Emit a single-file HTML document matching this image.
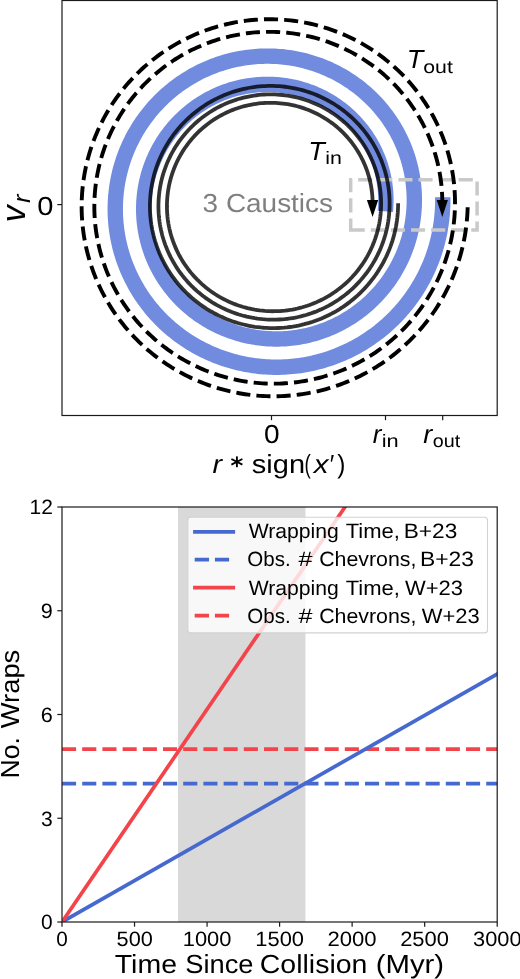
<!DOCTYPE html>
<html><head><meta charset="utf-8">
<style>
html,body{margin:0;padding:0;background:#fff;}
svg{display:block;will-change:transform;}
text{font-family:"Liberation Sans",sans-serif;fill:#000;text-rendering:geometricPrecision;}
</style></head>
<body>
<svg width="520" height="979" viewBox="0 0 520 979">
<rect x="0" y="0" width="520" height="979" fill="#fff"/>
<defs>
<clipPath id="c1"><rect x="62" y="0.5" width="435.2" height="415"/></clipPath>
<clipPath id="c2"><rect x="62" y="507" width="435.2" height="415"/></clipPath>
</defs>
<!-- ================= TOP PANEL ================= -->
<g clip-path="url(#c1)" fill="none">
<path d="M442.74 197.24 L442.76 199.93 L442.74 202.63 L442.68 205.31 L442.57 208.00 L442.43 210.69 L442.24 213.37 L442.00 216.04 L441.73 218.71 L441.41 221.38 L441.05 224.04 L440.65 226.69 L440.20 229.33 L439.71 231.97 L439.19 234.59 L438.62 237.21 L438.00 239.82 L437.35 242.41 L436.66 244.99 L435.92 247.57 L435.15 250.12 L434.33 252.67 L433.47 255.20 L432.58 257.71 L431.64 260.21 L430.66 262.70 L429.65 265.16 L428.60 267.61 L427.50 270.04 L426.37 272.46 L425.21 274.85 L424.00 277.22 L422.76 279.58 L421.48 281.91 L420.16 284.22 L418.81 286.51 L417.42 288.78 L416.00 291.02 L414.54 293.24 L413.04 295.44 L411.52 297.61 L409.95 299.76 L408.36 301.88 L406.73 303.97 L405.07 306.04 L403.38 308.08 L401.65 310.09 L399.90 312.07 L398.11 314.03 L396.30 315.95 L394.45 317.85 L392.57 319.71 L390.67 321.55 L388.74 323.35 L386.78 325.13 L384.79 326.87 L382.78 328.58 L380.73 330.25 L378.67 331.90 L376.58 333.50 L374.46 335.08 L372.32 336.62 L370.16 338.13 L367.97 339.60 L365.76 341.04 L363.54 342.44 L361.28 343.80 L359.01 345.13 L356.72 346.43 L354.41 347.68 L352.08 348.90 L349.73 350.08 L347.37 351.23 L344.98 352.33 L342.59 353.40 L340.17 354.43 L337.74 355.42 L335.30 356.37 L332.84 357.28 L330.37 358.16 L327.88 358.99 L325.39 359.79 L322.88 360.54 L320.36 361.26 L317.84 361.93 L315.30 362.57 L312.75 363.16 L310.20 363.71 L307.64 364.23 L305.07 364.70 L302.50 365.13 L299.92 365.52 L297.33 365.87 L294.75 366.18 L292.15 366.45 L289.56 366.68 L286.96 366.87 L284.36 367.01 L281.77 367.12 L279.17 367.18 L276.57 367.20 L273.97 367.19 L271.37 367.13 L268.78 367.03 L266.19 366.89 L263.60 366.70 L261.02 366.48 L258.44 366.22 L255.87 365.92 L253.30 365.57 L250.74 365.19 L248.19 364.76 L245.65 364.30 L243.12 363.80 L240.59 363.25 L238.08 362.67 L235.57 362.05 L233.08 361.39 L230.60 360.69 L228.13 359.95 L225.68 359.17 L223.24 358.36 L220.81 357.51 L218.40 356.61 L216.00 355.69 L213.62 354.72 L211.26 353.72 L208.92 352.68 L206.59 351.60 L204.28 350.49 L201.99 349.34 L199.72 348.16 L197.47 346.94 L195.24 345.69 L193.03 344.40 L190.84 343.08 L188.68 341.73 L186.54 340.34 L184.42 338.92 L182.33 337.47 L180.26 335.98 L178.21 334.46 L176.20 332.91 L174.20 331.33 L172.23 329.72 L170.29 328.08 L168.38 326.41 L166.50 324.72 L164.64 322.99 L162.81 321.23 L161.01 319.45 L159.24 317.64 L157.50 315.80 L155.80 313.94 L154.12 312.05 L152.47 310.13 L150.85 308.19 L149.27 306.23 L147.72 304.24 L146.20 302.23 L144.71 300.19 L143.26 298.13 L141.84 296.06 L140.46 293.96 L139.11 291.84 L137.79 289.70 L136.51 287.54 L135.27 285.36 L134.06 283.16 L132.88 280.95 L131.74 278.71 L130.64 276.47 L129.58 274.20 L128.55 271.92 L127.56 269.63 L126.60 267.32 L125.68 264.99 L124.81 262.66 L123.96 260.31 L123.16 257.95 L122.40 255.58 L121.67 253.19 L120.98 250.80 L120.33 248.40 L119.72 245.99 L119.15 243.57 L118.61 241.14 L118.12 238.71 L117.66 236.27 L117.25 233.82 L116.87 231.37 L116.54 228.92 L116.24 226.46 L115.98 224.00 L115.76 221.53 L115.58 219.06 L115.44 216.60 L115.34 214.13 L115.28 211.66 L115.26 209.19 L115.28 206.72 L115.34 204.25 L115.43 201.79 L115.57 199.33 L115.74 196.87 L115.96 194.42 L116.21 191.97 L116.51 189.53 L116.84 187.09 L117.21 184.66 L117.62 182.24 L118.06 179.82 L118.55 177.42 L119.07 175.02 L119.63 172.63 L120.23 170.25 L120.87 167.89 L121.55 165.53 L122.26 163.19 L123.01 160.86 L123.79 158.54 L124.61 156.24 L125.47 153.95 L126.37 151.67 L127.30 149.41 L128.26 147.17 L129.27 144.94 L130.30 142.73 L131.37 140.54 L132.48 138.37 L133.62 136.21 L134.79 134.08 L136.00 131.96 L137.24 129.87 L138.51 127.79 L139.81 125.74 L141.15 123.70 L142.52 121.69 L143.92 119.71 L145.35 117.74 L146.81 115.80 L148.30 113.89 L149.82 112.00 L151.37 110.13 L152.95 108.29 L154.56 106.47 L156.20 104.69 L157.86 102.92 L159.55 101.19 L161.27 99.48 L163.01 97.81 L164.78 96.16 L166.57 94.53 L168.39 92.94 L170.24 91.38 L172.11 89.85 L174.00 88.34 L175.91 86.87 L177.85 85.43 L179.80 84.02 L181.78 82.65 L183.78 81.30 L185.80 79.99 L187.84 78.71 L189.90 77.46 L191.98 76.25 L194.08 75.06 L196.19 73.92 L198.32 72.80 L200.47 71.72 L202.63 70.68 L204.81 69.67 L207.01 68.70 L209.22 67.76 L211.44 66.85 L213.67 65.98 L215.92 65.15 L218.18 64.35 L220.45 63.59 L222.73 62.87 L225.02 62.18 L227.32 61.53 L229.63 60.91 L231.95 60.33 L234.28 59.79 L236.61 59.28 L238.95 58.82 L241.30 58.39 L243.65 57.99 L246.01 57.64 L248.37 57.32 L250.73 57.04 L253.10 56.79 L255.47 56.59 L257.85 56.42 L260.22 56.29 L262.59 56.19 L264.97 56.13 L267.34 56.12 L269.71 56.13 L272.08 56.19 L274.45 56.28 L276.82 56.41 L279.18 56.58 L281.54 56.78 L283.89 57.03 L286.24 57.30 L288.58 57.62 L290.92 57.97 L293.25 58.36 L295.57 58.78 L297.88 59.25 L300.18 59.74 L302.48 60.28 L304.76 60.84 L307.04 61.45 L309.30 62.09 L311.55 62.77 L313.79 63.48 L316.02 64.22 L318.23 65.00 L320.43 65.82 L322.62 66.66 L324.79 67.55 L326.94 68.46 L329.08 69.41 L331.20 70.40 L333.31 71.41 L335.40 72.46 L337.47 73.54 L339.52 74.65 L341.55 75.79 L343.57 76.97 L345.56 78.18 L347.53 79.41 L349.48 80.68 L351.41 81.98 L353.32 83.30 L355.21 84.66 L357.07 86.04 L358.91 87.46 L360.73 88.90 L362.52 90.37 L364.28 91.86 L366.03 93.39 L367.74 94.94 L369.44 96.51 L371.10 98.12 L372.74 99.74 L374.35 101.39 L375.93 103.07 L377.49 104.77 L379.02 106.49 L380.52 108.24 L381.99 110.01 L383.43 111.80 L384.84 113.61 L386.22 115.45 L387.58 117.30 L388.90 119.17 L390.19 121.07 L391.45 122.98 L392.68 124.91 L393.87 126.86 L395.04 128.83 L396.17 130.82 L397.27 132.82 L398.34 134.84 L399.37 136.87 L400.38 138.92 L401.34 140.98 L402.28 143.06 L403.18 145.15 L404.05 147.25 L404.88 149.37 L405.68 151.49 L406.44 153.63 L407.17 155.78 L407.87 157.94 L408.53 160.11 L409.15 162.29 L409.74 164.47 L410.29 166.67 L410.81 168.87 L411.30 171.08 L411.74 173.29 L412.16 175.51 L412.53 177.74 L412.87 179.97 L413.18 182.20 L413.45 184.44 L413.68 186.68 L413.88 188.92 L414.04 191.17 L414.16 193.41 L414.25 195.66 L414.30 197.90 L414.32 200.15 L414.30 202.39 L414.25 204.63 L414.16 206.87 L414.03 209.11 L413.87 211.35 L413.67 213.58 L413.44 215.80 L413.17 218.02 L412.87 220.24 L412.53 222.44 L412.16 224.65 L411.75 226.84 L411.31 229.03 L410.83 231.21 L410.31 233.38 L409.77 235.54 L409.19 237.69 L408.57 239.82 L407.92 241.95 L407.24 244.07 L406.52 246.17 L405.78 248.27 L404.99 250.35 L404.18 252.41 L403.33 254.46 L402.45 256.50 L401.54 258.52 L400.60 260.53 L399.62 262.52 L398.62 264.49 L397.58 266.45 L396.51 268.38 L395.42 270.30 L394.29 272.21 L393.13 274.09 L391.95 275.95 L390.73 277.80 L389.49 279.62 L388.21 281.42 L386.91 283.20 L385.59 284.96 L384.23 286.70 L382.85 288.42 L381.44 290.11 L380.00 291.78 L378.54 293.42 L377.06 295.04 L375.55 296.64 L374.01 298.21 L372.45 299.76 L370.87 301.28 L369.26 302.78 L367.63 304.24 L365.98 305.69 L364.31 307.10 L362.61 308.49 L360.89 309.85 L359.16 311.18 L357.40 312.49 L355.62 313.76 L353.83 315.01 L352.01 316.23 L350.18 317.42 L348.33 318.58 L346.46 319.71 L344.57 320.80 L342.67 321.87 L340.76 322.91 L338.82 323.92 L336.88 324.89 L334.91 325.84 L332.94 326.75 L330.95 327.63 L328.95 328.48 L326.93 329.30 L324.91 330.08 L322.87 330.84 L320.82 331.56 L318.76 332.24 L316.70 332.90 L314.62 333.52 L312.53 334.11 L310.44 334.66 L308.34 335.19 L306.23 335.67 L304.12 336.13 L302.00 336.55 L299.87 336.94 L297.74 337.29 L295.61 337.61 L293.47 337.90 L291.33 338.15 L289.18 338.37 L287.04 338.55 L284.89 338.70 L282.74 338.82 L280.59 338.90 L278.44 338.95 L276.29 338.97 L274.15 338.95 L272.00 338.89 L269.86 338.81 L267.72 338.69 L265.58 338.53 L263.45 338.35 L261.32 338.12 L259.19 337.87 L257.08 337.58 L254.96 337.26 L252.86 336.91 L250.76 336.52 L248.67 336.10 L246.58 335.65 L244.51 335.16 L242.44 334.65 L240.39 334.10 L238.34 333.52 L236.31 332.90 L234.28 332.26 L232.27 331.58 L230.27 330.87 L228.28 330.14 L226.31 329.37 L224.35 328.57 L222.40 327.73 L220.47 326.87 L218.55 325.98 L216.65 325.06 L214.76 324.11 L212.89 323.14 L211.04 322.13 L209.21 321.09 L207.39 320.03 L205.59 318.94 L203.81 317.82 L202.05 316.67 L200.31 315.50 L198.58 314.30 L196.88 313.07 L195.20 311.82 L193.54 310.54 L191.90 309.23 L190.29 307.90 L188.69 306.55 L187.12 305.17 L185.57 303.77 L184.05 302.35 L182.55 300.90 L181.07 299.43 L179.62 297.94 L178.19 296.42 L176.79 294.88 L175.41 293.33 L174.06 291.75 L172.73 290.15 L171.43 288.53 L170.16 286.90 L168.92 285.24 L167.70 283.56 L166.51 281.87 L165.35 280.16 L164.21 278.43 L163.11 276.69 L162.03 274.93 L160.98 273.15 L159.96 271.36 L158.97 269.55 L158.01 267.73 L157.08 265.90 L156.18 264.05 L155.31 262.19 L154.47 260.31 L153.66 258.43 L152.88 256.53 L152.14 254.62 L151.42 252.71 L150.73 250.78 L150.08 248.84 L149.45 246.89 L148.86 244.94 L148.30 242.97 L147.77 241.00 L147.28 239.02 L146.81 237.04 L146.38 235.05 L145.98 233.05 L145.61 231.05 L145.28 229.05 L144.97 227.04 L144.70 225.02 L144.46 223.01 L144.26 220.99 L144.08 218.97 L143.94 216.95 L143.83 214.93 L143.75 212.91 L143.71 210.88 L143.70 208.86 L143.72 206.84 L143.77 204.82 L143.85 202.81 L143.97 200.79 L144.12 198.78 L144.30 196.77 L144.51 194.77 L144.75 192.77 L145.03 190.78 L145.34 188.79 L145.68 186.81 L146.05 184.84 L146.45 182.87 L146.88 180.91 L147.35 178.96 L147.84 177.02 L148.37 175.09 L148.93 173.16 L149.51 171.25 L150.13 169.35 L150.78 167.46 L151.45 165.58 L152.16 163.71 L152.89 161.85 L153.66 160.01 L154.45 158.18 L155.27 156.36 L156.13 154.56 L157.00 152.77 L157.91 151.00 L158.85 149.25 L159.81 147.51 L160.80 145.78 L161.81 144.07 L162.86 142.38 L163.92 140.71 L165.02 139.06 L166.14 137.42 L167.29 135.80 L168.46 134.20 L169.65 132.63 L170.87 131.07 L172.12 129.53 L173.38 128.01 L174.67 126.51 L175.99 125.04 L177.33 123.59 L178.68 122.15 L180.07 120.75 L181.47 119.36 L182.89 118.00 L184.34 116.66 L185.80 115.34 L187.29 114.05 L188.79 112.78 L190.31 111.54 L191.86 110.32 L193.42 109.12 L195.00 107.96 L196.59 106.82 L198.21 105.70 L199.84 104.61 L201.48 103.55 L203.15 102.51 L204.82 101.50 L206.52 100.52 L208.22 99.56 L209.95 98.63 L211.68 97.73 L213.43 96.86 L215.19 96.02 L216.96 95.20 L218.75 94.42 L220.54 93.66 L222.35 92.93 L224.17 92.23 L225.99 91.56 L227.83 90.91 L229.68 90.30 L231.53 89.72 L233.39 89.16 L235.26 88.64 L237.14 88.15 L239.02 87.68 L240.91 87.25 L242.81 86.85 L244.71 86.47 L246.61 86.13 L248.52 85.81 L250.43 85.53 L252.35 85.28 L254.27 85.06 L256.19 84.86 L258.11 84.70 L260.03 84.57 L261.95 84.47 L263.88 84.40 L265.80 84.36 L267.73 84.35 L269.65 84.37 L271.57 84.42 L273.49 84.50 L275.40 84.62 L277.31 84.76 L279.22 84.93 L281.13 85.13 L283.03 85.36 L284.92 85.62 L286.81 85.91 L288.69 86.23 L290.57 86.58 L292.44 86.96 L294.30 87.37 L296.16 87.81 L298.00 88.27 L299.84 88.77 L301.67 89.29 L303.49 89.84 L305.30 90.42 L307.09 91.03 L308.88 91.67 L310.66 92.33 L312.42 93.02 L314.17 93.74 L315.91 94.49 L317.63 95.26 L319.35 96.06 L321.04 96.89 L322.73 97.74 L324.40 98.62 L326.05 99.52 L327.69 100.45 L329.31 101.40 L330.91 102.38 L332.50 103.38 L334.07 104.41 L335.62 105.46 L337.16 106.54 L338.68 107.64 L340.17 108.76 L341.65 109.90 L343.11 111.07 L344.55 112.26 L345.97 113.47 L347.37 114.70 L348.75 115.96 L350.11 117.23 L351.45 118.53 L352.76 119.84 L354.06 121.18 L355.33 122.53 L356.58 123.90 L357.80 125.29 L359.00 126.71 L360.18 128.13 L361.34 129.58 L362.47 131.04 L363.58 132.52 L364.66 134.02 L365.72 135.53 L366.75 137.06 L367.76 138.60 L368.74 140.16 L369.69 141.73 L370.63 143.31 L371.53 144.91 L372.41 146.52 L373.26 148.15 L374.09 149.79 L374.88 151.43 L375.66 153.09 L376.40 154.77 L377.12 156.45 L377.81 158.14 L378.47 159.84 L379.11 161.55 L379.71 163.27 L380.29 165.00 L380.84 166.73 L381.37 168.47 L381.86 170.22 L382.33 171.98 L382.76 173.74 L383.17 175.51 L383.55 177.28 L383.91 179.06 L384.23 180.84 L384.53 182.63 L384.79 184.41 L385.03 186.21 L385.24 188.00 L385.42 189.80 L385.57 191.59 L385.69 193.39 L385.78 195.19 L385.85 196.99 L385.88 198.79 L385.89 200.59 L385.87 202.38 L385.82 204.18 L385.74 205.97 L385.63 207.76 L385.49 209.55 L385.33 211.33" stroke="#718bdf" stroke-width="15.4" stroke-linecap="butt" stroke-linejoin="round"/>
<path d="M350.7 229.9 L477.1 229.9 L477.1 179.7 L350.7 179.7 Z" stroke="#c9c9c9" stroke-width="3.5" stroke-dasharray="14.1 6" fill="none"/>
<path d="M398.11 203.33 L398.08 206.28 L397.98 209.23 L397.81 212.18 L397.57 215.12 L397.26 218.06 L396.88 220.98 L396.43 223.90 L395.92 226.81 L395.33 229.70 L394.68 232.57 L393.95 235.43 L393.16 238.27 L392.31 241.09 L391.38 243.89 L390.40 246.66 L389.34 249.42 L388.22 252.14 L387.04 254.84 L385.79 257.51 L384.48 260.14 L383.11 262.75 L381.68 265.32 L380.19 267.86 L378.64 270.36 L377.03 272.82 L375.36 275.24 L373.63 277.63 L371.85 279.97 L370.02 282.27 L368.13 284.53 L366.19 286.73 L364.20 288.90 L362.15 291.01 L360.06 293.08 L357.92 295.10 L355.74 297.06 L353.50 298.97 L351.23 300.83 L348.91 302.64 L346.55 304.39 L344.15 306.08 L341.71 307.72 L339.23 309.30 L336.72 310.82 L334.17 312.28 L331.59 313.68 L328.97 315.02 L326.33 316.29 L323.66 317.51 L320.96 318.66 L318.23 319.75 L315.48 320.77 L312.71 321.73 L309.91 322.62 L307.10 323.45 L304.26 324.21 L301.42 324.90 L298.55 325.53 L295.67 326.09 L292.79 326.58 L289.89 327.00 L286.98 327.36 L284.06 327.65 L281.14 327.86 L278.22 328.01 L275.30 328.10 L272.37 328.11 L269.45 328.06 L266.52 327.93 L263.61 327.74 L260.70 327.48 L257.79 327.15 L254.90 326.76 L252.02 326.29 L249.15 325.76 L246.29 325.17 L243.45 324.50 L240.62 323.77 L237.82 322.98 L235.04 322.12 L232.27 321.19 L229.54 320.20 L226.82 319.15 L224.13 318.03 L221.47 316.85 L218.84 315.61 L216.25 314.31 L213.68 312.95 L211.15 311.53 L208.65 310.05 L206.19 308.52 L203.76 306.92 L201.38 305.27 L199.03 303.57 L196.73 301.81 L194.47 300.00 L192.25 298.14 L190.08 296.22 L187.96 294.26 L185.89 292.25 L183.86 290.19 L181.88 288.08 L179.96 285.93 L178.08 283.73 L176.26 281.50 L174.49 279.22 L172.78 276.90 L171.13 274.54 L169.53 272.14 L167.99 269.71 L166.51 267.24 L165.08 264.74 L163.72 262.21 L162.42 259.65 L161.18 257.06 L160.00 254.44 L158.88 251.79 L157.83 249.12 L156.84 246.43 L155.92 243.72 L155.06 240.98 L154.27 238.23 L153.54 235.46 L152.88 232.67 L152.28 229.87 L151.76 227.06 L151.29 224.23 L150.90 221.40 L150.57 218.56 L150.32 215.71 L150.12 212.86 L150.00 210.01 L149.95 207.15 L149.96 204.30 L150.04 201.44 L150.19 198.59 L150.40 195.75 L150.68 192.91 L151.03 190.08 L151.45 187.26 L151.93 184.45 L152.49 181.65 L153.10 178.87 L153.78 176.10 L154.53 173.36 L155.34 170.63 L156.22 167.92 L157.16 165.23 L158.16 162.57 L159.23 159.93 L160.36 157.31 L161.55 154.73 L162.80 152.17 L164.11 149.65 L165.48 147.16 L166.90 144.70 L168.39 142.27 L169.93 139.89 L171.53 137.53 L173.18 135.22 L174.89 132.95 L176.65 130.72 L178.46 128.53 L180.33 126.38 L182.24 124.28 L184.20 122.23 L186.21 120.22 L188.27 118.26 L190.37 116.35 L192.51 114.49 L194.70 112.68 L196.93 110.93 L199.20 109.22 L201.51 107.57 L203.86 105.98 L206.25 104.44 L208.67 102.96 L211.12 101.53 L213.61 100.17 L216.12 98.86 L218.67 97.61 L221.25 96.42 L223.85 95.30 L226.48 94.23 L229.13 93.23 L231.80 92.29 L234.50 91.41 L237.21 90.60 L239.94 89.85 L242.69 89.16 L245.45 88.54 L248.23 87.99 L251.01 87.50 L253.81 87.07 L256.62 86.71 L259.43 86.42 L262.25 86.19 L265.07 86.03 L267.90 85.94 L270.72 85.91 L273.55 85.94 L276.37 86.05 L279.19 86.22 L282.00 86.45 L284.81 86.75 L287.60 87.12 L290.39 87.55 L293.17 88.05 L295.93 88.61 L298.68 89.23 L301.41 89.92 L304.12 90.68 L306.81 91.49 L309.48 92.37 L312.13 93.31 L314.76 94.31 L317.36 95.38 L319.94 96.50 L322.48 97.69 L325.00 98.93 L327.49 100.23 L329.94 101.59 L332.36 103.00 L334.75 104.47 L337.10 106.00 L339.41 107.58 L341.68 109.21 L343.91 110.89 L346.10 112.63 L348.25 114.42 L350.36 116.25 L352.42 118.14 L354.44 120.07 L356.40 122.05 L358.32 124.07 L360.20 126.14 L362.02 128.25 L363.79 130.40 L365.50 132.59 L367.17 134.82 L368.78 137.09 L370.34 139.39 L371.84 141.73 L373.28 144.10 L374.67 146.51 L376.00 148.95 L377.27 151.41 L378.48 153.91 L379.63 156.43 L380.73 158.98 L381.76 161.55 L382.72 164.15 L383.63 166.76 L384.47 169.40 L385.26 172.05 L385.97 174.72 L386.63 177.41 L387.22 180.11 L387.74 182.82 L388.20 185.54 L388.60 188.28 L388.93 191.02 L389.19 193.76 L389.39 196.51 L389.53 199.27 L389.60 202.02 L389.60 204.78 L389.54 207.53 L389.41 210.28 L389.22 213.03 L388.96 215.77 L388.64 218.51 L388.25 221.23 L387.80 223.94 L387.29 226.65 L386.71 229.34 L386.06 232.01 L385.36 234.67 L384.59 237.30 L383.76 239.92 L382.87 242.52 L381.91 245.10 L380.90 247.65 L379.82 250.18 L378.69 252.68 L377.50 255.15 L376.24 257.59 L374.94 260.01 L373.57 262.39 L372.15 264.74 L370.68 267.05 L369.15 269.33 L367.56 271.57 L365.93 273.77 L364.24 275.93 L362.51 278.05 L360.72 280.13 L358.89 282.17 L357.00 284.16 L355.08 286.11 L353.10 288.01 L351.09 289.87 L349.03 291.67 L346.92 293.43 L344.78 295.14 L342.60 296.79 L340.38 298.40 L338.12 299.95 L335.83 301.45 L333.50 302.89 L331.14 304.28 L328.75 305.61 L326.33 306.88 L323.88 308.10 L321.40 309.26 L318.90 310.36 L316.37 311.40 L313.82 312.38 L311.24 313.31 L308.65 314.17 L306.04 314.97 L303.40 315.70 L300.76 316.38 L298.10 316.99 L295.42 317.54 L292.73 318.03 L290.04 318.46 L287.33 318.82 L284.62 319.12 L281.90 319.35 L279.18 319.52 L276.46 319.63 L273.73 319.67 L271.01 319.65 L268.28 319.57 L265.56 319.42 L262.85 319.21 L260.14 318.93 L257.44 318.59 L254.75 318.19 L252.07 317.73 L249.40 317.20 L246.75 316.61 L244.11 315.96 L241.49 315.25 L238.89 314.48 L236.31 313.65 L233.75 312.75 L231.21 311.80 L228.70 310.79 L226.21 309.72 L223.74 308.59 L221.31 307.41 L218.91 306.17 L216.53 304.87 L214.19 303.52 L211.88 302.11 L209.61 300.65 L207.37 299.14 L205.17 297.58 L203.01 295.97 L200.88 294.30 L198.80 292.59 L196.76 290.83 L194.76 289.03 L192.81 287.17 L190.90 285.28 L189.04 283.34 L187.22 281.36 L185.45 279.33 L183.74 277.27 L182.07 275.16 L180.45 273.02 L178.88 270.84 L177.37 268.63 L175.91 266.38 L174.51 264.10 L173.16 261.79 L171.86 259.45 L170.62 257.08 L169.44 254.68 L168.32 252.25 L167.25 249.80 L166.24 247.33 L165.29 244.83 L164.41 242.31 L163.58 239.78 L162.81 237.22 L162.10 234.65 L161.46 232.07 L160.88 229.47 L160.36 226.85 L159.90 224.23 L159.50 221.60 L159.17 218.96 L158.90 216.31 L158.69 213.66 L158.54 211.01 L158.46 208.35 L158.44 205.70 L158.49 203.04 L158.60 200.39 L158.77 197.74 L159.00 195.09 L159.29 192.46 L159.65 189.83 L160.07 187.21 L160.56 184.60 L161.10 182.01 L161.71 179.43 L162.37 176.87 L163.10 174.32 L163.88 171.79 L164.73 169.28 L165.64 166.79 L166.60 164.33 L167.62 161.88 L168.70 159.47 L169.84 157.08 L171.03 154.72 L172.28 152.38 L173.58 150.08 L174.94 147.81 L176.34 145.58 L177.81 143.37 L179.32 141.21 L180.88 139.07 L182.50 136.98 L184.16 134.93 L185.87 132.91 L187.63 130.94 L189.43 129.01 L191.28 127.12 L193.17 125.28 L195.10 123.48 L197.08 121.73 L199.09 120.03 L201.15 118.37 L203.24 116.76 L205.37 115.20 L207.54 113.70 L209.74 112.24 L211.97 110.84 L214.24 109.49 L216.53 108.20 L218.86 106.95 L221.21 105.77 L223.60 104.64 L226.00 103.56 L228.43 102.55 L230.89 101.59 L233.36 100.69 L235.86 99.84 L238.37 99.06 L240.90 98.33 L243.45 97.67 L246.01 97.06 L248.58 96.52 L251.17 96.03 L253.76 95.61 L256.37 95.25 L258.98 94.94 L261.60 94.70 L264.22 94.52 L266.84 94.41 L269.47 94.35 L272.09 94.36 L274.71 94.42 L277.33 94.55 L279.95 94.74 L282.56 94.99 L285.16 95.30 L287.76 95.68 L290.34 96.11 L292.91 96.60 L295.47 97.15 L298.01 97.77 L300.54 98.44 L303.05 99.17 L305.54 99.96 L308.01 100.80 L310.46 101.71 L312.89 102.67 L315.30 103.69 L317.67 104.76 L320.02 105.89 L322.35 107.07 L324.64 108.30 L326.90 109.59 L329.13 110.93 L331.33 112.33 L333.49 113.77 L335.62 115.26 L337.71 116.81 L339.77 118.40 L341.78 120.03 L343.76 121.72 L345.69 123.44 L347.58 125.22 L349.43 127.03 L351.23 128.89 L352.99 130.79 L354.70 132.73 L356.37 134.71 L357.99 136.73 L359.56 138.78 L361.08 140.87 L362.55 142.99 L363.96 145.15 L365.33 147.34 L366.64 149.56 L367.90 151.80 L369.11 154.08 L370.26 156.39 L371.35 158.71 L372.39 161.07 L373.38 163.44 L374.30 165.84 L375.17 168.26 L375.98 170.70 L376.73 173.15 L377.43 175.63 L378.06 178.11 L378.64 180.61 L379.15 183.12 L379.61 185.65 L380.01 188.18 L380.34 190.72 L380.62 193.26 L380.83 195.81 L380.98 198.37 L381.08 200.92 L381.11 203.48 L381.08 206.04 L380.99 208.59 L380.84 211.14 L380.63 213.69 L380.36 216.23 L380.03 218.76 L379.64 221.28 L379.19 223.79 L378.68 226.29 L378.11 228.78 L377.48 231.25 L376.80 233.71 L376.05 236.15 L375.25 238.57 L374.39 240.97 L373.48 243.34 L372.51 245.70 L371.48 248.03 L370.40 250.34 L369.27 252.61 L368.08 254.87 L366.84 257.09 L365.55 259.28 L364.20 261.44 L362.81 263.57 L361.36 265.66 L359.87 267.72 L358.33 269.74 L356.74 271.73 L355.11 273.68 L353.43 275.58 L351.70 277.45 L349.93 279.28 L348.13 281.06 L346.27 282.80 L344.38 284.50 L342.45 286.15 L340.48 287.75 L338.48 289.31 L336.44 290.82 L334.36 292.28 L332.25 293.69 L330.11 295.05 L327.94 296.36 L325.73 297.62 L323.50 298.83 L321.24 299.98 L318.96 301.08 L316.65 302.13 L314.32 303.12 L311.96 304.06 L309.58 304.94 L307.19 305.76 L304.77 306.53 L302.34 307.24 L299.90 307.89 L297.44 308.49 L294.96 309.03 L292.48 309.51 L289.98 309.93 L287.48 310.29 L284.97 310.60 L282.45 310.84 L279.93 311.03 L277.41 311.15 L274.89 311.22 L272.36 311.23 L269.84 311.18 L267.32 311.07 L264.80 310.90 L262.29 310.67 L259.78 310.39 L257.29 310.04 L254.80 309.64 L252.32 309.18 L249.86 308.66 L247.41 308.09 L244.98 307.46 L242.56 306.77 L240.16 306.02 L237.77 305.22 L235.41 304.36 L233.07 303.45 L230.76 302.49 L228.47 301.47 L226.20 300.39 L223.96 299.27 L221.75 298.09 L219.56 296.87 L217.41 295.59 L215.29 294.26 L213.20 292.88 L211.15 291.46 L209.13 289.99 L207.15 288.47 L205.20 286.91 L203.29 285.30 L201.42 283.65 L199.60 281.95 L197.81 280.22 L196.07 278.44 L194.36 276.62 L192.71 274.76 L191.09 272.87 L189.53 270.94 L188.01 268.97 L186.54 266.97 L185.11 264.94 L183.74 262.88 L182.41 260.78 L181.14 258.65 L179.92 256.50 L178.74 254.31 L177.63 252.11 L176.56 249.87 L175.55 247.61 L174.59 245.34 L173.69 243.03 L172.84 240.71 L172.05 238.38 L171.31 236.02 L170.63 233.65 L170.01 231.26 L169.44 228.86 L168.93 226.45 L168.48 224.03 L168.09 221.60 L167.75 219.16 L167.47 216.71 L167.25 214.26 L167.09 211.81 L166.99 209.35 L166.94 206.89 L166.96 204.43 L167.03 201.98 L167.16 199.53 L167.35 197.08 L167.59 194.64 L167.90 192.20 L168.26 189.78 L168.68 187.36 L169.16 184.95 L169.69 182.56 L170.28 180.18 L170.93 177.82 L171.63 175.47 L172.38 173.14 L173.20 170.83 L174.06 168.54 L174.98 166.27 L175.95 164.03 L176.98 161.81 L178.06 159.61 L179.19 157.44 L180.37 155.30 L181.60 153.19 L182.88 151.10 L184.21 149.05 L185.58 147.03 L187.01 145.05 L188.48 143.09 L189.99 141.18 L191.55 139.30 L193.16 137.46 L194.80 135.65 L196.49 133.89 L198.22 132.17 L199.99 130.48 L201.80 128.85 L203.65 127.25 L205.53 125.70 L207.45 124.19 L209.40 122.73 L211.39 121.32 L213.41 119.95 L215.46 118.63 L217.54 117.36 L219.65 116.14 L221.78 114.97 L223.95 113.85 L226.14 112.78 L228.35 111.76 L230.59 110.80 L232.84 109.88 L235.12 109.03 L237.42 108.22 L239.73 107.47 L242.06 106.78 L244.41 106.14 L246.77 105.55 L249.14 105.02 L251.53 104.55 L253.92 104.13 L256.32 103.77 L258.73 103.46 L261.15 103.21 L263.57 103.02 L265.99 102.89 L268.41 102.81 L270.84 102.79 L273.26 102.82 L275.68 102.91 L278.10 103.06 L280.51 103.27 L282.92 103.53 L285.32 103.85 L287.71 104.22 L290.09 104.65 L292.46 105.13 L294.82 105.67 L297.16 106.27 L299.48 106.92 L301.79 107.62 L304.08 108.38 L306.35 109.19 L308.61 110.05 L310.84 110.96 L313.04 111.93 L315.22 112.95 L317.38 114.02 L319.51 115.13 L321.61 116.30 L323.69 117.52 L325.73 118.78 L327.74 120.09 L329.72 121.45 L331.67 122.85 L333.58 124.30 L335.46 125.79 L337.30 127.32 L339.10 128.90 L340.86 130.52 L342.59 132.17 L344.27 133.87 L345.91 135.61 L347.51 137.38 L349.07 139.19 L350.59 141.03 L352.05 142.91 L353.48 144.83 L354.86 146.77 L356.19 148.75 L357.47 150.75 L358.70 152.79 L359.89 154.85 L361.02 156.94 L362.11 159.05 L363.14 161.19 L364.13 163.35 L365.06 165.53 L365.94 167.74 L366.76 169.96 L367.54 172.20 L368.26 174.46 L368.92 176.73 L369.53 179.02 L370.09 181.32 L370.59 183.63 L371.04 185.95 L371.43 188.28 L371.76 190.62 L372.04 192.97 L372.27 195.32 L372.43 197.67 L372.55 200.03 L372.60 202.39" stroke="#000" stroke-opacity="0.8" stroke-width="3.8" stroke-linecap="butt" stroke-linejoin="round"/>
<path d="M467.65 207.29 L467.55 210.35 L467.41 213.40 L467.21 216.45 L466.97 219.49 L466.68 222.53 L466.34 225.57 L465.95 228.59 L465.52 231.62 L465.04 234.63 L464.51 237.64 L463.93 240.63 L463.31 243.62 L462.64 246.59 L461.92 249.56 L461.16 252.51 L460.34 255.45 L459.49 258.38 L458.58 261.29 L457.64 264.19 L456.64 267.07 L455.60 269.94 L454.52 272.78 L453.39 275.62 L452.21 278.43 L451.00 281.22 L449.74 283.99 L448.43 286.75 L447.08 289.48 L445.69 292.19 L444.26 294.88 L442.78 297.54 L441.27 300.18 L439.71 302.80 L438.11 305.39 L436.47 307.96 L434.79 310.50 L433.07 313.01 L431.31 315.50 L429.52 317.95 L427.68 320.38 L425.81 322.78 L423.90 325.15 L421.95 327.49 L419.97 329.80 L417.95 332.07 L415.89 334.32 L413.80 336.53 L411.68 338.71 L409.52 340.85 L407.33 342.96 L405.10 345.04 L402.85 347.08 L400.56 349.08 L398.24 351.05 L395.89 352.98 L393.51 354.88 L391.10 356.74 L388.67 358.56 L386.20 360.34 L383.71 362.08 L381.19 363.78 L378.64 365.44 L376.07 367.07 L373.48 368.65 L370.86 370.19 L368.21 371.69 L365.55 373.15 L362.86 374.56 L360.15 375.94 L357.41 377.27 L354.66 378.56 L351.89 379.80 L349.10 381.00 L346.29 382.16 L343.47 383.28 L340.62 384.35 L337.77 385.37 L334.89 386.35 L332.00 387.29 L329.10 388.18 L326.18 389.02 L323.26 389.82 L320.31 390.57 L317.36 391.28 L314.40 391.94 L311.43 392.55 L308.45 393.12 L305.46 393.64 L302.47 394.12 L299.47 394.55 L296.46 394.93 L293.44 395.26 L290.43 395.55 L287.40 395.79 L284.38 395.98 L281.35 396.13 L278.33 396.22 L275.30 396.28 L272.27 396.28 L269.24 396.24 L266.22 396.15 L263.19 396.01 L260.17 395.83 L257.15 395.59 L254.14 395.32 L251.13 394.99 L248.13 394.62 L245.14 394.20 L242.15 393.73 L239.17 393.22 L236.20 392.67 L233.24 392.06 L230.29 391.41 L227.35 390.72 L224.43 389.98 L221.51 389.19 L218.61 388.36 L215.73 387.48 L212.85 386.56 L210.00 385.59 L207.16 384.58 L204.33 383.53 L201.52 382.43 L198.74 381.29 L195.97 380.11 L193.22 378.88 L190.49 377.61 L187.78 376.30 L185.09 374.95 L182.42 373.55 L179.78 372.12 L177.16 370.64 L174.57 369.12 L172.00 367.57 L169.45 365.97 L166.93 364.33 L164.44 362.66 L161.97 360.95 L159.54 359.19 L157.13 357.41 L154.75 355.58 L152.39 353.72 L150.07 351.82 L147.78 349.89 L145.52 347.92 L143.30 345.92 L141.10 343.88 L138.94 341.81 L136.81 339.70 L134.72 337.57 L132.66 335.40 L130.63 333.20 L128.64 330.97 L126.68 328.71 L124.77 326.41 L122.89 324.09 L121.04 321.75 L119.23 319.37 L117.47 316.96 L115.74 314.53 L114.04 312.07 L112.39 309.59 L110.78 307.08 L109.21 304.55 L107.68 301.99 L106.18 299.41 L104.74 296.81 L103.33 294.19 L101.96 291.54 L100.64 288.88 L99.35 286.19 L98.12 283.49 L96.92 280.77 L95.77 278.02 L94.66 275.27 L93.59 272.49 L92.57 269.70 L91.60 266.90 L90.66 264.08 L89.78 261.24 L88.94 258.40 L88.14 255.54 L87.39 252.67 L86.68 249.79 L86.02 246.89 L85.41 243.99 L84.84 241.08 L84.32 238.17 L83.84 235.24 L83.41 232.31 L83.03 229.37 L82.69 226.43 L82.40 223.48 L82.16 220.53 L81.96 217.58 L81.81 214.62 L81.71 211.67 L81.65 208.71 L81.64 205.75 L81.68 202.79 L81.76 199.84 L81.89 196.89 L82.07 193.93 L82.29 190.99 L82.56 188.05 L82.88 185.11 L83.24 182.18 L83.65 179.25 L84.10 176.33 L84.61 173.42 L85.15 170.52 L85.74 167.63 L86.38 164.75 L87.07 161.87 L87.79 159.01 L88.57 156.17 L89.39 153.33 L90.25 150.51 L91.16 147.70 L92.11 144.91 L93.10 142.14 L94.14 139.37 L95.22 136.63 L96.35 133.91 L97.51 131.20 L98.72 128.51 L99.98 125.84 L101.27 123.19 L102.60 120.57 L103.98 117.96 L105.40 115.38 L106.86 112.82 L108.35 110.28 L109.89 107.76 L111.47 105.28 L113.08 102.81 L114.74 100.38 L116.43 97.96 L118.16 95.58 L119.92 93.22 L121.73 90.90 L123.57 88.60 L125.44 86.33 L127.35 84.09 L129.30 81.88 L131.28 79.70 L133.29 77.55 L135.34 75.43 L137.42 73.35 L139.53 71.30 L141.67 69.29 L143.85 67.30 L146.05 65.35 L148.29 63.44 L150.55 61.56 L152.85 59.72 L155.17 57.92 L157.52 56.15 L159.90 54.42 L162.30 52.72 L164.74 51.07 L167.19 49.45 L169.67 47.87 L172.18 46.33 L174.71 44.83 L177.26 43.37 L179.83 41.95 L182.43 40.57 L185.04 39.23 L187.68 37.93 L190.34 36.67 L193.01 35.46 L195.71 34.28 L198.42 33.15 L201.15 32.07 L203.90 31.02 L206.66 30.02 L209.43 29.06 L212.22 28.14 L215.03 27.27 L217.85 26.44 L220.67 25.66 L223.52 24.92 L226.37 24.23 L229.23 23.58 L232.10 22.97 L234.98 22.41 L237.87 21.90 L240.76 21.43 L243.67 21.00 L246.57 20.62 L249.49 20.29 L252.41 20.00 L255.33 19.75 L258.25 19.56 L261.18 19.40 L264.11 19.30 L267.03 19.24 L269.96 19.22 L272.89 19.25 L275.82 19.33 L278.74 19.45 L281.67 19.62 L284.58 19.83 L287.50 20.09 L290.41 20.39 L293.31 20.74 L296.21 21.13 L299.10 21.57 L301.98 22.05 L304.86 22.58 L307.72 23.16 L310.58 23.77 L313.42 24.43 L316.25 25.14 L319.08 25.89 L321.88 26.68 L324.68 27.52 L327.46 28.40 L330.23 29.32 L332.98 30.29 L335.71 31.30 L338.43 32.35 L341.13 33.44 L343.82 34.58 L346.48 35.75 L349.12 36.97 L351.75 38.23 L354.35 39.53 L356.94 40.87 L359.50 42.24 L362.04 43.66 L364.55 45.12 L367.04 46.62 L369.51 48.15 L371.95 49.72 L374.37 51.33 L376.76 52.98 L379.12 54.66 L381.46 56.38 L383.77 58.14 L386.05 59.93 L388.30 61.76 L390.52 63.62 L392.71 65.51 L394.87 67.44 L397.00 69.40 L399.10 71.40 L401.17 73.42 L403.20 75.48 L405.20 77.57 L407.17 79.69 L409.10 81.84 L411.00 84.02 L412.86 86.23 L414.69 88.46 L416.48 90.73 L418.24 93.02 L419.96 95.34 L421.64 97.68 L423.28 100.05 L424.89 102.45 L426.46 104.86 L427.99 107.31 L429.48 109.77 L430.93 112.26 L432.34 114.77 L433.71 117.30 L435.04 119.86 L436.33 122.43 L437.58 125.02 L438.79 127.63 L439.96 130.26 L441.08 132.90 L442.16 135.56 L443.20 138.24 L444.20 140.94 L445.16 143.64 L446.07 146.37 L446.94 149.10 L447.76 151.85 L448.54 154.61 L449.28 157.38 L449.97 160.17 L450.62 162.96 L451.23 165.76 L451.79 168.57 L452.30 171.39 L452.77 174.22 L453.20 177.05 L453.58 179.89 L453.92 182.73 L454.21 185.58 L454.46 188.43 L454.66 191.28 L454.81 194.14 L454.92 196.99 L454.99 199.85 L455.01 202.71 L454.99 205.57 L454.92 208.43 L454.80 211.28 L454.64 214.14 L454.44 216.99 L454.19 219.83 L453.89 222.67 L453.55 225.51 L453.17 228.34 L452.74 231.16 L452.27 233.97 L451.75 236.78 L451.19 239.58 L450.58 242.37 L449.93 245.14 L449.24 247.91 L448.50 250.66 L447.72 253.41 L446.90 256.14 L446.03 258.85 L445.13 261.56 L444.18 264.24 L443.18 266.91 L442.15 269.57 L441.07 272.21 L439.95 274.83 L438.79 277.43 L437.59 280.02 L436.35 282.58 L435.07 285.12 L433.75 287.65 L432.39 290.15 L430.99 292.63 L429.56 295.09 L428.08 297.52 L426.57 299.93 L425.01 302.32 L423.42 304.68 L421.80 307.02 L420.14 309.33 L418.44 311.61 L416.70 313.87 L414.94 316.10 L413.13 318.30 L411.29 320.47 L409.42 322.61 L407.52 324.73 L405.58 326.81 L403.61 328.86 L401.61 330.88 L399.58 332.87 L397.51 334.83 L395.42 336.75 L393.29 338.64 L391.14 340.50 L388.96 342.32 L386.75 344.11 L384.51 345.86 L382.25 347.58 L379.95 349.26 L377.64 350.91 L375.29 352.52 L372.93 354.09 L370.54 355.62 L368.12 357.12 L365.68 358.58 L363.22 360.00 L360.74 361.38 L358.24 362.73 L355.72 364.03 L353.17 365.29 L350.61 366.52 L348.03 367.70 L345.43 368.85 L342.82 369.95 L340.18 371.01 L337.53 372.03 L334.87 373.01 L332.19 373.94 L329.50 374.84 L326.79 375.69 L324.07 376.50 L321.34 377.27 L318.60 377.99 L315.85 378.68 L313.09 379.31 L310.31 379.91 L307.53 380.46 L304.74 380.97 L301.95 381.44 L299.15 381.86 L296.34 382.24 L293.53 382.57 L290.71 382.86 L287.89 383.10 L285.06 383.31 L282.24 383.46 L279.41 383.58 L276.58 383.65 L273.75 383.67 L270.92 383.66 L268.09 383.59 L265.27 383.49 L262.44 383.34 L259.62 383.14 L256.81 382.90 L254.00 382.62 L251.19 382.30 L248.39 381.93 L245.60 381.51 L242.81 381.06 L240.03 380.56 L237.26 380.01 L234.50 379.43 L231.75 378.80 L229.01 378.13 L226.28 377.41 L223.57 376.66 L220.86 375.86 L218.17 375.02 L215.50 374.14 L212.84 373.22 L210.19 372.25 L207.56 371.25 L204.95 370.20 L202.35 369.12 L199.78 367.99 L197.22 366.82 L194.68 365.62 L192.16 364.37 L189.66 363.09 L187.18 361.77 L184.72 360.41 L182.29 359.01 L179.88 357.57 L177.49 356.10 L175.12 354.59 L172.78 353.05 L170.47 351.46 L168.18 349.85 L165.92 348.19 L163.68 346.51 L161.47 344.78 L159.29 343.03 L157.14 341.24 L155.01 339.42 L152.92 337.56 L150.85 335.68 L148.82 333.76 L146.82 331.81 L144.85 329.83 L142.91 327.82 L141.00 325.78 L139.12 323.71 L137.28 321.61 L135.47 319.49 L133.70 317.34 L131.96 315.16 L130.26 312.95 L128.59 310.72 L126.96 308.46 L125.36 306.18 L123.80 303.87 L122.28 301.54 L120.79 299.19 L119.34 296.81 L117.93 294.41 L116.56 292.00 L115.22 289.56 L113.93 287.10 L112.67 284.62 L111.46 282.12 L110.28 279.60 L109.15 277.07 L108.05 274.52 L106.99 271.95 L105.98 269.37 L105.01 266.78 L104.08 264.16 L103.19 261.54 L102.34 258.90 L101.53 256.25 L100.77 253.59 L100.04 250.91 L99.36 248.23 L98.73 245.53 L98.13 242.83 L97.58 240.12 L97.07 237.40 L96.61 234.67 L96.18 231.94 L95.81 229.20 L95.47 226.46 L95.18 223.71 L94.93 220.96 L94.72 218.21 L94.56 215.45 L94.44 212.69 L94.37 209.93 L94.34 207.17 L94.35 204.41 L94.41 201.65 L94.51 198.89 L94.65 196.14 L94.84 193.39 L95.07 190.64 L95.34 187.90 L95.66 185.16 L96.02 182.43 L96.42 179.70 L96.87 176.98 L97.36 174.27 L97.89 171.57 L98.47 168.87 L99.08 166.19 L99.74 163.51 L100.44 160.85 L101.18 158.20 L101.97 155.56 L102.79 152.94 L103.66 150.33 L104.57 147.73 L105.52 145.15 L106.51 142.58 L107.54 140.03 L108.61 137.49 L109.72 134.98 L110.86 132.48 L112.05 130.00 L113.28 127.54 L114.54 125.10 L115.85 122.68 L117.19 120.28 L118.57 117.90 L119.98 115.55 L121.43 113.21 L122.92 110.90 L124.45 108.62 L126.01 106.36 L127.60 104.12 L129.23 101.91 L130.90 99.73 L132.60 97.57 L134.33 95.44 L136.10 93.34 L137.90 91.26 L139.73 89.21 L141.59 87.20 L143.48 85.21 L145.41 83.25 L147.36 81.32 L149.35 79.43 L151.36 77.56 L153.40 75.73 L155.47 73.93 L157.57 72.16 L159.70 70.43 L161.85 68.73 L164.03 67.06 L166.24 65.43 L168.47 63.84 L170.72 62.27 L173.00 60.75 L175.30 59.26 L177.63 57.80 L179.97 56.39 L182.34 55.01 L184.73 53.66 L187.14 52.36 L189.57 51.09 L192.02 49.86 L194.49 48.67 L196.98 47.52 L199.48 46.41 L202.00 45.33 L204.54 44.30 L207.09 43.30 L209.66 42.35 L212.24 41.44 L214.83 40.56 L217.44 39.73 L220.06 38.94 L222.69 38.19 L225.34 37.48 L227.99 36.81 L230.65 36.18 L233.32 35.60 L236.01 35.06 L238.69 34.56 L241.39 34.10 L244.09 33.68 L246.80 33.30 L249.51 32.97 L252.23 32.68 L254.95 32.43 L257.68 32.23 L260.40 32.07 L263.13 31.95 L265.86 31.87 L268.59 31.83 L271.32 31.84 L274.05 31.89 L276.77 31.98 L279.50 32.12 L282.22 32.30 L284.94 32.51 L287.65 32.78 L290.36 33.08 L293.06 33.43 L295.76 33.82 L298.45 34.25 L301.13 34.72 L303.81 35.23 L306.47 35.79 L309.13 36.38 L311.77 37.02 L314.41 37.70 L317.03 38.42 L319.64 39.18 L322.24 39.98 L324.82 40.82 L327.39 41.70 L329.95 42.62 L332.49 43.58 L335.02 44.58 L337.52 45.62 L340.01 46.69 L342.49 47.81 L344.94 48.96 L347.38 50.15 L349.79 51.38 L352.19 52.65 L354.56 53.95 L356.92 55.29 L359.25 56.67 L361.56 58.08 L363.85 59.53 L366.11 61.01 L368.35 62.53 L370.56 64.08 L372.75 65.66 L374.91 67.28 L377.05 68.94 L379.16 70.62 L381.25 72.34 L383.30 74.09 L385.33 75.87 L387.33 77.68 L389.29 79.52 L391.23 81.40 L393.14 83.30 L395.02 85.23 L396.87 87.19 L398.68 89.18 L400.47 91.20 L402.22 93.24 L403.94 95.31 L405.62 97.41 L407.28 99.53 L408.89 101.67 L410.48 103.85 L412.03 106.04 L413.54 108.26 L415.02 110.50 L416.46 112.77 L417.86 115.05 L419.23 117.36 L420.57 119.69 L421.86 122.03 L423.12 124.40 L424.34 126.79 L425.52 129.19 L426.67 131.61 L427.77 134.05 L428.84 136.51 L429.86 138.98 L430.85 141.46 L431.80 143.96 L432.71 146.48 L433.58 149.01 L434.40 151.55 L435.19 154.10 L435.94 156.67 L436.65 159.24 L437.31 161.83 L437.94 164.42 L438.52 167.03 L439.06 169.64 L439.56 172.26 L440.02 174.89 L440.44 177.52 L440.81 180.16 L441.15 182.81 L441.44 185.45 L441.69 188.11 L441.90 190.76 L442.06 193.42 L442.19 196.08 L442.27 198.74 L442.31 201.40" stroke="#000" stroke-width="3.9" stroke-dasharray="14.1 6.1" stroke-linecap="butt" stroke-linejoin="round"/>
<path d="M366.9 200.1 L378.2 200.1 L372.6 217 Z" fill="#000"/>
<path d="M436.7 200.1 L447.9 200.1 L442.3 217.1 Z" fill="#000"/>
</g>
<rect x="62" y="0.5" width="435.2" height="415" fill="none" stroke="#1a1a1a" stroke-width="1.2"/>
<g stroke="#1a1a1a" stroke-width="1.2">
<line x1="57.3" y1="204.6" x2="62" y2="204.6"/>
<line x1="271.5" y1="415.5" x2="271.5" y2="420.2"/>
<line x1="385.5" y1="415.5" x2="385.5" y2="420.2"/>
<line x1="442.7" y1="415.5" x2="442.7" y2="420.2"/>
</g>
<text x="37.26" y="214.70" font-size="26.10" textLength="16.17" lengthAdjust="spacingAndGlyphs">0</text>
<text x="264.11" y="443.30" font-size="26.10" textLength="15.59" lengthAdjust="spacingAndGlyphs">0</text>
<text x="372.67" y="442.60" font-size="26.10" font-style="italic" textLength="8.66" lengthAdjust="spacingAndGlyphs">r</text>
<text x="381.74" y="446.70" font-size="18.00" textLength="16.98" lengthAdjust="spacingAndGlyphs">in</text>
<text x="423.15" y="442.60" font-size="26.10" font-style="italic" textLength="9.04" lengthAdjust="spacingAndGlyphs">r</text>
<text x="432.87" y="446.70" font-size="18.00" textLength="27.47" lengthAdjust="spacingAndGlyphs">out</text>
<text x="212.62" y="473.30" font-size="26.10" font-style="italic" textLength="9.61" lengthAdjust="spacingAndGlyphs">r</text>
<text x="251.89" y="473.30" font-size="26.10" textLength="53.19" lengthAdjust="spacingAndGlyphs">sign</text>
<text x="304.43" y="473.30" font-size="26.10" textLength="6.28" lengthAdjust="spacingAndGlyphs">(</text>
<text x="313.78" y="473.30" font-size="26.10" font-style="italic" textLength="14.75" lengthAdjust="spacingAndGlyphs">x</text>
<text x="329.79" y="473.30" font-size="26.10" textLength="4.58" lengthAdjust="spacingAndGlyphs">′</text>
<text x="337.36" y="473.30" font-size="26.10" textLength="8.16" lengthAdjust="spacingAndGlyphs">)</text>
<text x="406.87" y="68.00" font-size="26.10" font-style="italic" textLength="16.53" lengthAdjust="spacingAndGlyphs">T</text>
<text x="423.31" y="72.60" font-size="18.00" textLength="29.55" lengthAdjust="spacingAndGlyphs">out</text>
<text x="308.37" y="160.00" font-size="26.10" font-style="italic" textLength="16.53" lengthAdjust="spacingAndGlyphs">T</text>
<text x="325.17" y="164.00" font-size="18.00" textLength="16.61" lengthAdjust="spacingAndGlyphs">in</text>
<text x="202.64" y="211.70" font-size="26.10" textLength="130.37" lengthAdjust="spacingAndGlyphs" style="fill:#7f7f7f">3 Caustics</text>
<text transform="translate(25.2,220.4) rotate(-90)" x="-1.85" y="0" font-size="34" font-style="italic" textLength="16.93" lengthAdjust="spacingAndGlyphs">v</text><text transform="translate(30.2,202.5) rotate(-90)" x="-0.42" y="0" font-size="24.4" font-style="italic" textLength="8.47" lengthAdjust="spacingAndGlyphs">r</text>
<!-- asterisk -->
<g stroke="#000" stroke-width="1.9" fill="none">
<line x1="236.9" y1="456.4" x2="236.9" y2="467.2"/>
<line x1="231.4" y1="459" x2="242.4" y2="464.6"/>
<line x1="231.4" y1="464.6" x2="242.4" y2="459"/>
</g>

<!-- ================= BOTTOM PANEL ================= -->
<rect x="178.05" y="507" width="127.4" height="415" fill="#d9d9d9"/>
<g clip-path="url(#c2)" fill="none">
<line x1="62" y1="783.6" x2="497.2" y2="783.6" stroke="#4669cf" stroke-width="3.7" stroke-dasharray="14.1 6.1"/>
<line x1="62" y1="749.1" x2="497.2" y2="749.1" stroke="#f2444a" stroke-width="3.7" stroke-dasharray="14.1 6.1"/>
<line x1="62" y1="922" x2="497.2" y2="674" stroke="#4669cf" stroke-width="3.7" stroke-linecap="square"/>
<line x1="62" y1="922" x2="345" y2="507" stroke="#f2444a" stroke-width="3.7" stroke-linecap="square"/>
</g>
<rect x="187.8" y="517.2" width="299.7" height="115.7" rx="3" ry="3" fill="#fff" fill-opacity="0.8" stroke="#d2d2d2" stroke-width="1.1"/>
<line x1="193.1" y1="531.8" x2="235.1" y2="531.8" stroke="#4669cf" stroke-width="3.7"/>
<path d="M194.7 559.7 H209 M214.9 559.7 H229.1" stroke="#4669cf" stroke-width="3.7" fill="none"/>
<line x1="193.1" y1="587.6" x2="235.1" y2="587.6" stroke="#f2444a" stroke-width="3.7"/>
<path d="M194.7 615.7 H209 M214.9 615.7 H229.1" stroke="#f2444a" stroke-width="3.7" fill="none"/>
<rect x="62" y="507" width="435.2" height="415" fill="none" stroke="#1a1a1a" stroke-width="1.2"/>
<g stroke="#1a1a1a" stroke-width="1.2">
<line x1="57.3" y1="507" x2="62" y2="507"/>
<line x1="57.3" y1="610.75" x2="62" y2="610.75"/>
<line x1="57.3" y1="714.5" x2="62" y2="714.5"/>
<line x1="57.3" y1="818.25" x2="62" y2="818.25"/>
<line x1="57.3" y1="922" x2="62" y2="922"/>
<line x1="62" y1="922" x2="62" y2="926.7"/>
<line x1="134.53" y1="922" x2="134.53" y2="926.7"/>
<line x1="207.07" y1="922" x2="207.07" y2="926.7"/>
<line x1="279.6" y1="922" x2="279.6" y2="926.7"/>
<line x1="352.13" y1="922" x2="352.13" y2="926.7"/>
<line x1="424.67" y1="922" x2="424.67" y2="926.7"/>
<line x1="497.2" y1="922" x2="497.2" y2="926.7"/>
</g>
<text x="29.50" y="513.90" font-size="20.70" textLength="23.36" lengthAdjust="spacingAndGlyphs">12</text>
<text x="40.79" y="618.05" font-size="20.70" textLength="12.04" lengthAdjust="spacingAndGlyphs">9</text>
<text x="40.70" y="721.80" font-size="20.70" textLength="12.05" lengthAdjust="spacingAndGlyphs">6</text>
<text x="41.00" y="825.55" font-size="20.70" textLength="11.73" lengthAdjust="spacingAndGlyphs">3</text>
<text x="40.98" y="929.30" font-size="20.70" textLength="11.63" lengthAdjust="spacingAndGlyphs">0</text>
<text x="56.29" y="945.70" font-size="20.70" textLength="11.52" lengthAdjust="spacingAndGlyphs">0</text>
<text x="116.63" y="945.70" font-size="20.70" textLength="36.22" lengthAdjust="spacingAndGlyphs">500</text>
<text x="182.74" y="945.70" font-size="20.70" textLength="48.62" lengthAdjust="spacingAndGlyphs">1000</text>
<text x="255.34" y="945.70" font-size="20.70" textLength="48.62" lengthAdjust="spacingAndGlyphs">1500</text>
<text x="327.59" y="945.70" font-size="20.70" textLength="49.07" lengthAdjust="spacingAndGlyphs">2000</text>
<text x="400.20" y="945.70" font-size="20.70" textLength="48.76" lengthAdjust="spacingAndGlyphs">2500</text>
<text x="473.07" y="945.70" font-size="20.70" textLength="48.48" lengthAdjust="spacingAndGlyphs">3000</text>
<text x="248.66" y="538.25" font-size="20.70" textLength="90.20" lengthAdjust="spacingAndGlyphs">Wrapping</text>
<text x="345.76" y="538.25" font-size="20.70" textLength="54.18" lengthAdjust="spacingAndGlyphs">Time,</text>
<text x="403.74" y="538.25" font-size="20.70" textLength="53.50" lengthAdjust="spacingAndGlyphs">B+23</text>
<text x="247.28" y="566.25" font-size="20.70" textLength="43.35" lengthAdjust="spacingAndGlyphs">Obs.</text>
<text x="298.64" y="566.25" font-size="20.70" textLength="13.98" lengthAdjust="spacingAndGlyphs">#</text>
<text x="319.22" y="566.25" font-size="20.70" textLength="97.20" lengthAdjust="spacingAndGlyphs">Chevrons,</text>
<text x="420.03" y="566.25" font-size="20.70" textLength="53.98" lengthAdjust="spacingAndGlyphs">B+23</text>
<text x="248.66" y="594.50" font-size="20.70" textLength="90.20" lengthAdjust="spacingAndGlyphs">Wrapping</text>
<text x="345.76" y="594.50" font-size="20.70" textLength="54.18" lengthAdjust="spacingAndGlyphs">Time,</text>
<text x="404.90" y="594.50" font-size="20.70" textLength="58.06" lengthAdjust="spacingAndGlyphs">W+23</text>
<text x="247.28" y="622.50" font-size="20.70" textLength="43.35" lengthAdjust="spacingAndGlyphs">Obs.</text>
<text x="298.64" y="622.50" font-size="20.70" textLength="13.98" lengthAdjust="spacingAndGlyphs">#</text>
<text x="319.22" y="622.50" font-size="20.70" textLength="97.20" lengthAdjust="spacingAndGlyphs">Chevrons,</text>
<text x="421.65" y="622.50" font-size="20.70" textLength="58.06" lengthAdjust="spacingAndGlyphs">W+23</text>
<text x="114.77" y="973.00" font-size="26.10" textLength="62.27" lengthAdjust="spacingAndGlyphs">Time</text>
<text x="185.26" y="973.00" font-size="26.10" textLength="68.25" lengthAdjust="spacingAndGlyphs">Since</text>
<text x="259.75" y="973.00" font-size="26.10" textLength="107.70" lengthAdjust="spacingAndGlyphs">Collision</text>
<text x="375.68" y="973.00" font-size="26.10" textLength="68.44" lengthAdjust="spacingAndGlyphs">(Myr)</text>
<text transform="translate(18.7,776.40) rotate(-90)" x="-2.18" y="0" font-size="26.10" textLength="41.41" lengthAdjust="spacingAndGlyphs">No.</text>
<text transform="translate(18.7,728.10) rotate(-90)" x="-0.12" y="0" font-size="26.10" textLength="78.50" lengthAdjust="spacingAndGlyphs">Wraps</text>

</svg>
</body></html>
